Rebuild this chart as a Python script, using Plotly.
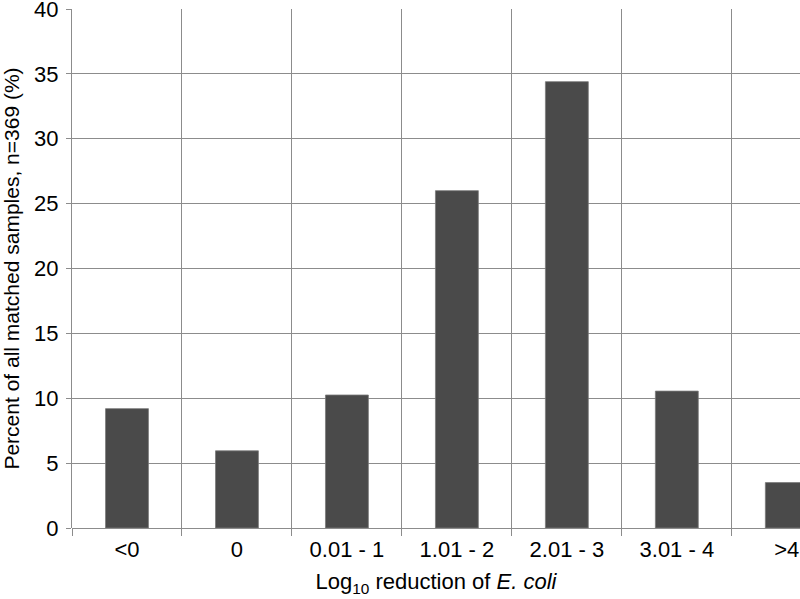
import plotly.graph_objects as go

categories = ["<0", "0", "0.01 - 1", "1.01 - 2", "2.01 - 3", "3.01 - 4", ">4"]
percent_samples = [9.2, 5.95, 10.25, 26.0, 34.4, 10.55, 3.5]
y_ticks = [0, 5, 10, 15, 20, 25, 30, 35, 40]

GRID = "#8c8c8c"
BAR = "#4a4a4a"
FONT = "Liberation Sans, Arial, sans-serif"

fig = go.Figure()
fig.add_trace(
    go.Bar(
        x=categories,
        y=percent_samples,
        marker=dict(color=BAR, line=dict(color="#7a7a7a", width=0.8)),
        width=0.39,
    )
)

fig.update_layout(
    width=800,
    height=599,
    margin=dict(l=72, r=0, t=9, b=71, autoexpand=False),
    plot_bgcolor="white",
    paper_bgcolor="white",
    showlegend=False,
    font=dict(family=FONT, size=22, color="black"),
    xaxis=dict(
        range=[-0.5, 6.12],
        tickson="boundaries",
        showgrid=True,
        gridcolor=GRID,
        gridwidth=1,
        ticks="outside",
        ticklen=7,
        tickcolor=GRID,
        showline=False,
        zeroline=False,
        automargin=False,
        ticklabelstandoff=6,
        tickfont=dict(family=FONT, size=22),
        title=dict(text="Log<sub>10</sub> reduction of <i>E. coli</i>",
                   font=dict(family=FONT, size=22), standoff=12),
    ),
    yaxis=dict(
        range=[0, 40],
        tickvals=y_ticks,
        showgrid=True,
        gridcolor=GRID,
        gridwidth=1,
        ticks="outside",
        ticklen=5,
        tickcolor=GRID,
        showline=True,
        linecolor=GRID,
        zeroline=True,
        zerolinecolor=GRID,
        zerolinewidth=1,
        automargin=False,
        ticklabeloverflow="allow",
        ticklabelstandoff=3,
        tickfont=dict(family=FONT, size=22),
        title=dict(text="Percent of all matched samples, n=369 (%)",
                   font=dict(family=FONT, size=21), standoff=8),
    ),
)

# page body has a default 8px margin; drop it so the figure sits at the corner
fig.write_html(
    "out.html",
    config={"displayModeBar": False},
    post_script="document.body.style.margin='0';",
)
